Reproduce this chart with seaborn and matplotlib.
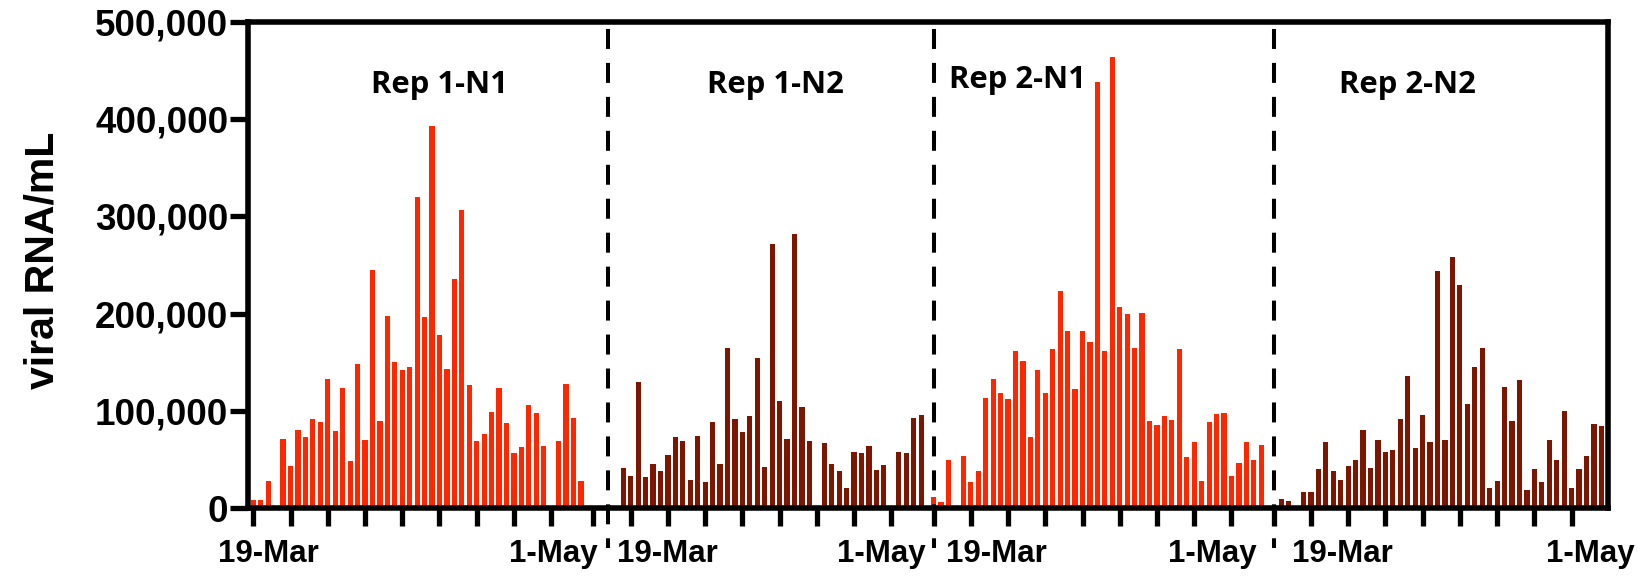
import numpy as np
import pandas as pd
import matplotlib
matplotlib.use("Agg")
import matplotlib.pyplot as plt
import seaborn as sns

# Daily viral RNA concentrations (copies/mL), one array per replicate/target
rep1_n1 = [8000, 8000, 28000, 0, 71000, 43000, 80000, 73000, 92000, 88000,
           133000, 79000, 123000, 48000, 148000, 70000, 245000, 89000, 198000, 150000,
           142000, 145000, 320000, 197000, 393000, 178000, 143000, 236000, 307000, 127000,
           69000, 76000, 99000, 123000, 87000, 57000, 63000, 106000, 98000, 64000,
           0, 69000, 128000, 93000, 28000, 0, 0]
rep1_n2 = [3000, 0, 41000, 33000, 130000, 32000, 45000, 38000, 55000, 73000,
           69000, 29000, 74000, 27000, 88000, 45000, 165000, 92000, 78000, 95000,
           154000, 42000, 272000, 110000, 71000, 282000, 104000, 69000, 0, 67000,
           45000, 38000, 21000, 58000, 57000, 64000, 39000, 44000, 0, 58000,
           57000, 93000, 96000]
rep2_n1 = [11000, 6000, 49000, 0, 53000, 27000, 38000, 113000, 133000, 118000,
           112000, 162000, 151000, 73000, 142000, 118000, 164000, 223000, 182000, 122000,
           182000, 171000, 438000, 162000, 464000, 207000, 200000, 165000, 201000, 90000,
           85000, 95000, 91000, 164000, 52000, 68000, 28000, 88000, 97000, 98000,
           33000, 46000, 68000, 49000, 65000]
rep2_n2 = [2000, 9000, 7000, 2000, 16000, 16000, 40000, 68000, 38000, 29000,
           43000, 49000, 80000, 41000, 70000, 58000, 60000, 92000, 136000, 62000,
           96000, 68000, 244000, 70000, 258000, 229000, 107000, 145000, 165000, 21000,
           28000, 124000, 90000, 132000, 19000, 40000, 27000, 70000, 49000, 100000,
           21000, 40000, 54000, 86000, 84000]

panel_names = ["Rep 1-N1", "Rep 1-N2", "Rep 2-N1", "Rep 2-N2"]
panel_targets = ["N1", "N2", "N1", "N2"]
panel_values = [rep1_n1, rep1_n2, rep2_n1, rep2_n2]
date_labels = ["19-Mar", "1-May"]

# ---- layout -----------------------------------------------------------
GAP = 0.67  # spacing between consecutive data sets on the shared axis
starts = []
pos = 0.0
for vals in panel_values:
    starts.append(pos)
    pos += len(vals) + GAP

rows = []
for name, tgt, vals, s in zip(panel_names, panel_targets, panel_values, starts):
    for i, v in enumerate(vals):
        rows.append({"panel": name, "target": tgt, "pos": s + i, "copies": v})
df = pd.DataFrame(rows)

RED = "#FF2600"
DARK = "#7E1500"

sns.set_theme(style="white")
plt.rcParams["font.family"] = ["Liberation Sans", "DejaVu Sans"]
plt.rcParams["font.weight"] = "bold"
for key in ("text.color", "axes.labelcolor", "xtick.color", "ytick.color",
            "axes.edgecolor"):
    plt.rcParams[key] = "black"

fig = plt.figure(figsize=(16.38, 5.76), dpi=100)
ax = fig.add_axes([248.5 / 1638, 1 - 508 / 576,
                   (1608 - 248.5) / 1638, (508 - 22) / 576])

sns.barplot(data=df, x="pos", y="copies", hue="target",
            palette={"N1": RED, "N2": DARK}, native_scale=True, dodge=False,
            width=0.7, errorbar=None, saturation=1, linewidth=0,
            legend=False, ax=ax)

ax.set_xlim(-0.645, 181.9)
ax.set_ylim(0, 500000)

# y axis
yt = np.arange(0, 500001, 100000)
ax.set_yticks(yt)
ax.set_yticklabels([f"{int(v):,}" for v in yt], fontsize=26.5,
                   fontweight="bold", color="black")
ax.set_ylabel("viral RNA/mL", fontsize=29.5, fontweight="bold", color="black")
ax.yaxis.set_label_coords(-0.1375, 0.51)
ax.tick_params(axis="y", which="major", length=13, width=3.8, pad=1.5,
               direction="out", color="black", labelcolor="black", left=True)

# x axis: tick marks as minor ticks, date labels as major ticks
first_offsets = [0, 3, 5, 5]
n_ticks = [9, 8, 8, 8]
marks = []
for s, f, n in zip(starts, first_offsets, n_ticks):
    marks += [s + f + 5 * k for k in range(n)]
marks += [starts[1] - 2, starts[2], starts[3]]
label_offsets_start = [1.97, 7.88, 8.40, 9.19]
label_offsets_end = [40.24, 36.63, 37.41, 42.49]
label_pos, label_txt = [], []
for s, a, b in zip(starts, label_offsets_start, label_offsets_end):
    label_pos += [s + a, s + b]
    label_txt += date_labels
ax.xaxis.remove_overlapping_locs = False
ax.set_xticks(sorted(marks), minor=True)
ax.set_xticks(label_pos)
ax.set_xticklabels(label_txt, fontsize=22.5, fontweight="bold", color="black")
ax.tick_params(axis="x", which="minor", length=13, width=3.8, direction="out",
               color="black", bottom=True)
ax.tick_params(axis="x", which="major", length=0, pad=22, bottom=True,
               labelcolor="black")
ax.set_xlabel("")

for sp in ax.spines.values():
    sp.set_visible(True)
    sp.set_linewidth(4)
    sp.set_color("black")

# dashed separators between data sets
for s in starts[1:]:
    ax.plot([s, s], [500000, -41000], color="black", lw=2.9,
            linestyle=(6.7, (4.96, 3.47)), solid_capstyle="butt",
            dash_capstyle="butt", clip_on=False, zorder=5)

# data set titles
title_offsets = [24.94, 22.38, 11.24, 18.0]
title_heights = [435600, 435600, 440000, 435600]
for name, s, off, h in zip(panel_names, starts, title_offsets, title_heights):
    ax.text(s + off, h, name, ha="center", va="center", fontsize=22.3,
            fontweight="bold", family=["Open Sans", "DejaVu Sans"], color="black")

fig.savefig("out.png", dpi=100)
